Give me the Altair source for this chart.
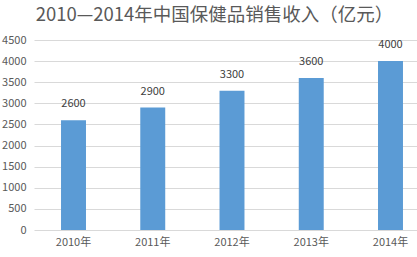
import altair as alt
import pandas as pd

years = ["2010年", "2011年", "2012年", "2013年", "2014年"]
values = [2600, 2900, 3300, 3600, 4000]
y_ticks = [0, 500, 1000, 1500, 2000, 2500, 3000, 3500, 4000, 4500]
title_text = "2010—2014年中国保健品销售收入（亿元）"

df = pd.DataFrame({"year": years, "value": values})

FONT = "Noto Sans CJK SC"

x_enc = alt.X("year:N", sort=years,
              scale=alt.Scale(range=[0, 396], paddingInner=0.685, paddingOuter=0.341),
              axis=alt.Axis(title=None, labelAngle=0, ticks=False, domain=False,
                            labelPadding=6, labelFontSize=11, labelColor="#595959",
                            labelFont=FONT, grid=False))
y_enc = alt.Y("value:Q", scale=alt.Scale(domain=[0, 4500], nice=False),
              axis=alt.Axis(title=None, values=y_ticks, format="d", labelOverlap=False,
                            ticks=False, domain=False,
                            labelPadding=8, labelFontSize=11, labelColor="#595959",
                            labelFont=FONT, gridColor="#d9d9d9", gridWidth=1))

base = alt.Chart(df).encode(x=x_enc, y=y_enc)
bars = base.mark_bar(color="#5B9BD5")
labels = base.mark_text(baseline="middle", dy=-16, fontSize=11,
                        color="#404040", font=FONT).encode(text="value:Q")

chart = (bars + labels).properties(
    width=383, height=190,
    title=alt.TitleParams(title_text, fontSize=18.5, color="#595959", font=FONT,
                          fontWeight="normal", anchor="middle", dx=-11, offset=10),
    autosize=alt.AutoSizeParams(type="none"),
    padding={"left": 34, "top": 40, "right": 0, "bottom": 27},
).configure_view(stroke=None)

chart.save("out.html", embed_options={"renderer": "svg", "actions": False})
